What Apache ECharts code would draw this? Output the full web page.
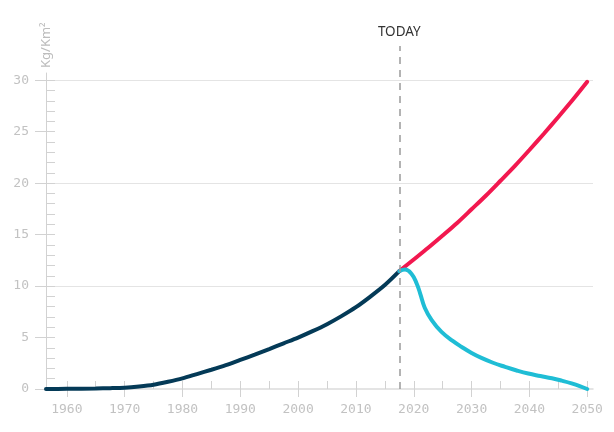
<!DOCTYPE html>
<html>
<head>
<meta charset="utf-8">
<script src="https://cdn.jsdelivr.net/npm/echarts@6/dist/echarts.min.js"></script>
<style>html,body{margin:0;padding:0;background:#fff}#c{width:614px;height:432px}</style>
</head>
<body>
<div id="c"></div>
<script>
// Historical (dark) series
var histYears  = [1956.4, 1960, 1965, 1967.5, 1970, 1972.5, 1975, 1977.5, 1980, 1982.5, 1985, 1987.5, 1990, 1992.5, 1995, 1997.5, 2000, 2002.5, 2005, 2007.5, 2010, 2012.5, 2015, 2017.5];
var histValues = [0, 0.02, 0.05, 0.08, 0.13, 0.25, 0.42, 0.7, 1.03, 1.45, 1.87, 2.32, 2.83, 3.34, 3.88, 4.44, 5.0, 5.62, 6.3, 7.08, 7.95, 8.98, 10.1, 11.45];
// Projection: high scenario (red)
var highYears  = [2017.5, 2020, 2022.5, 2025, 2027.5, 2030, 2032.5, 2035, 2037.5, 2040, 2042.5, 2045, 2047.5, 2050];
var highValues = [11.45, 12.58, 13.72, 14.91, 16.13, 17.46, 18.8, 20.23, 21.68, 23.22, 24.8, 26.43, 28.1, 29.85];
// Projection: reduction scenario (cyan)
var lowYears  = [2017.5, 2018.5, 2019.6, 2020.5, 2021.1, 2021.9, 2023.1, 2024.8, 2026.8, 2028.3, 2030, 2031.7, 2033.7, 2035.8, 2037.8, 2039.8, 2041.9, 2043.9, 2045.6, 2047.3, 2048.7, 2050];
var lowValues = [11.45, 11.6, 11.2, 10.25, 9.3, 7.9, 6.7, 5.55, 4.65, 4.08, 3.5, 3.02, 2.55, 2.15, 1.8, 1.5, 1.26, 1.04, 0.81, 0.55, 0.29, 0];
// Axis ticks
var xLabelTicks = [1960, 1970, 1980, 1990, 2000, 2010, 2020, 2030, 2040, 2050];
var xMinorTicks = [1960, 1965, 1970, 1975, 1980, 1985, 1990, 1995, 2000, 2005, 2010, 2015, 2020, 2025, 2030, 2035, 2040, 2045, 2050];
var yLabelTicks = [0, 5, 10, 15, 20, 25, 30];
var yMinorTicks = [1,2,3,4,5,6,7,8,9,10,11,12,13,14,15,16,17,18,19,20,21,22,23,24,25,26,27,28,29,30];
var yGridTicks = [10, 20, 30];
var todayYear = 2017.5;
var todayTop = 33.2;

function pairs(xs, ys){ return xs.map(function(x,i){ return [x, ys[i]]; }); }
function plain(v){ return String(v); }

var monoFont = 'DejaVu Sans Mono';
var labelColor = '#c2c2c2';
var axisColor = '#d2d2d2';
var X_MIN = 1956.4, X_MAX = 2051, Y_MAX = 30.7;

var chart = echarts.init(document.getElementById('c'), null, {renderer: 'canvas'});
chart.setOption({
  animation: false,
  grid: [
    {left: 46, right: 21, top: 73, bottom: 43, containLabel: false},
    {left: 46, right: 21, top: 46, bottom: 43, containLabel: false}
  ],
  xAxis: [
    {
      type: 'value', gridIndex: 0, min: X_MIN, max: X_MAX, position: 'bottom',
      axisLine: {show: true, lineStyle: {color: '#dcdcdc', width: 1.5}},
      axisTick: {show: true, inside: false, length: 8, customValues: xLabelTicks, lineStyle: {color: axisColor, width: 1}},
      axisLabel: {show: true, customValues: xLabelTicks, formatter: plain, margin: 14, color: labelColor, fontFamily: monoFont, fontSize: 13},
      splitLine: {show: false}
    },
    {
      type: 'value', gridIndex: 0, min: X_MIN, max: X_MAX, position: 'bottom',
      axisLine: {show: false},
      axisTick: {show: true, inside: true, length: 8, customValues: xMinorTicks, lineStyle: {color: axisColor, width: 1}},
      axisLabel: {show: false},
      splitLine: {show: false}
    },
    {
      type: 'value', gridIndex: 1, min: X_MIN, max: X_MAX, show: false
    }
  ],
  yAxis: [
    {
      type: 'value', gridIndex: 0, min: 0, max: Y_MAX, position: 'left',
      name: 'Kg/Km²', nameLocation: 'end', nameRotate: 90, nameGap: 5,
      nameTextStyle: {color: '#bdbdbd', fontSize: 13, fontFamily: 'Noto Sans'},
      axisLine: {show: true, lineStyle: {color: axisColor, width: 1}},
      axisTick: {show: true, inside: false, length: 11, customValues: yLabelTicks, lineStyle: {color: axisColor, width: 1}},
      axisLabel: {show: true, customValues: yLabelTicks, formatter: plain, margin: 17, color: labelColor, fontFamily: monoFont, fontSize: 13},
      splitLine: {show: false}
    },
    {
      type: 'value', gridIndex: 0, min: 0, max: Y_MAX, position: 'left',
      axisLine: {show: false},
      axisTick: {show: true, inside: true, length: 9, customValues: yMinorTicks, lineStyle: {color: axisColor, width: 1}},
      axisLabel: {show: false},
      splitLine: {show: false}
    },
    {
      type: 'value', gridIndex: 0, min: 0, max: Y_MAX, position: 'left',
      axisLine: {show: false},
      axisTick: {show: false, customValues: yGridTicks},
      axisLabel: {show: false},
      splitLine: {show: true, lineStyle: {color: '#e4e4e4', width: 1.2}}
    },
    {
      type: 'value', gridIndex: 1, min: 0, max: todayTop, show: false
    }
  ],
  series: [
    {
      type: 'line', name: 'today', xAxisIndex: 2, yAxisIndex: 3,
      data: [[todayYear, 0]], showSymbol: false, symbol: 'none',
      lineStyle: {opacity: 0},
      markLine: {
        silent: true, symbol: ['none', 'none'], animation: false,
        lineStyle: {color: '#9a9a9a', type: [7, 6], width: 1.5},
        label: {show: true, position: 'end', formatter: 'TODAY', color: '#333', fontSize: 13.5, fontFamily: 'Noto Sans', distance: 7},
        data: [[{coord: [todayYear, 0]}, {coord: [todayYear, todayTop]}]]
      }
    },
    {
      type: 'line', name: 'history', xAxisIndex: 0, yAxisIndex: 0,
      data: pairs(histYears, histValues), smooth: 0.3, showSymbol: false, symbol: 'none',
      lineStyle: {color: '#043a57', width: 4, cap: 'round'}
    },
    {
      type: 'line', name: 'high', xAxisIndex: 0, yAxisIndex: 0,
      data: pairs(highYears, highValues), smooth: 0.3, showSymbol: false, symbol: 'none',
      lineStyle: {color: '#f2184f', width: 4, cap: 'round'}
    },
    {
      type: 'line', name: 'low', xAxisIndex: 0, yAxisIndex: 0,
      data: pairs(lowYears, lowValues), smooth: 0.45, showSymbol: false, symbol: 'none',
      lineStyle: {color: '#1fbdd5', width: 4, cap: 'round'}
    }
  ]
});
</script>
</body>
</html>
